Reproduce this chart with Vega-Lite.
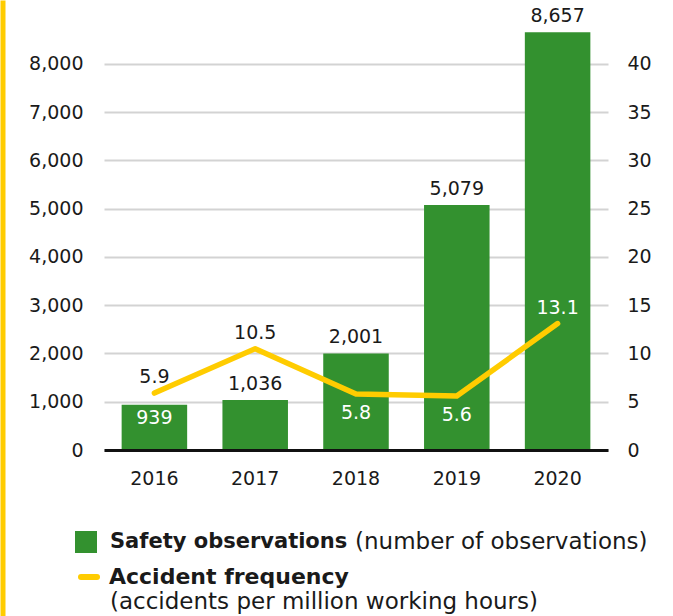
{
  "$schema": "https://vega.github.io/schema/vega-lite/v6.json",
  "width": 504,
  "height": 616,
  "autosize": {"type": "none"},
  "padding": {"left": 104, "top": 0, "right": 65, "bottom": 0},
  "background": "white",
  "config": {
    "view": {"stroke": null},
    "font": "DejaVu Sans",
    "text": {"font": "DejaVu Sans"},
    "axis": {"labelFont": "DejaVu Sans", "labelColor": "#1a1a1a", "labelFontSize": 19, "titleFont": "DejaVu Sans"},
    "legend": {"labelFont": "DejaVu Sans", "titleFont": "DejaVu Sans", "labelColor": "#1a1a1a", "titleColor": "#1a1a1a", "labelLimit": 0, "titleLimit": 0}
  },
  "data": {
    "values": [
      {"year": "2016", "obs": 939, "acc": 5.9},
      {"year": "2017", "obs": 1036, "acc": 10.5},
      {"year": "2018", "obs": 2001, "acc": 5.8},
      {"year": "2019", "obs": 5079, "acc": 5.6},
      {"year": "2020", "obs": 8657, "acc": 13.1}
    ]
  },
  "encoding": {
    "x": {
      "field": "year",
      "type": "ordinal",
      "scale": {"paddingInner": 0.35, "paddingOuter": 0.175},
      "axis": {
        "title": null,
        "orient": "bottom",
        "offset": -166,
        "domainColor": "#111111",
        "domainWidth": 3,
        "ticks": false,
        "labelPadding": 19,
        "labelAngle": 0,
        "grid": false,
        "zindex": 1
      }
    }
  },
  "layer": [
    {
      "encoding": {
        "y": {
          "field": "obs",
          "type": "quantitative",
          "scale": {"domain": [-3440.4, 9326.4], "nice": false, "zero": false},
          "axis": {
            "orient": "left",
            "values": [0, 1000, 2000, 3000, 4000, 5000, 6000, 7000, 8000],
            "labelExpr": "format(datum.value, ',')",
            "grid": true,
            "gridColor": "#d3d3d3",
            "gridWidth": 2,
            "domain": false,
            "ticks": false,
            "labelPadding": 21,
            "title": null
          }
        }
      },
      "layer": [
        {
          "mark": {"type": "bar"},
          "encoding": {
            "y2": {"datum": 0},
            "fill": {
              "datum": "Safety observations",
              "type": "nominal",
              "scale": {"domain": ["Safety observations"], "range": ["#33912f"]},
              "legend": {
                "orient": "none",
                "legendX": -29,
                "legendY": 531,
                "symbolType": "square",
                "symbolSize": 484,
                "symbolStrokeWidth": 0,
                "labelFontSize": 21,
                "labelFontWeight": "bold",
                "labelOffset": 13,
                "labelLimit": 0,
                "title": "(number of observations)",
                "titleOrient": "right",
                "titleFontSize": 23,
                "titleFontWeight": "normal",
                "titlePadding": 8,
                "titleLimit": 0,
                "titleBaseline": "middle"
              }
            }
          }
        },
        {
          "transform": [{"filter": "datum.year != '2016'"}],
          "mark": {"type": "text", "fontSize": 19, "baseline": "bottom", "dy": -6, "color": "#1a1a1a"},
          "encoding": {"text": {"field": "obs", "type": "quantitative", "format": ","}}
        },
        {
          "transform": [{"filter": "datum.year == '2016'"}],
          "mark": {"type": "text", "fontSize": 19, "baseline": "top", "dy": 4, "color": "white"},
          "encoding": {"text": {"field": "obs", "type": "quantitative", "format": ","}}
        }
      ]
    },
    {
      "encoding": {
        "y": {
          "field": "acc",
          "type": "quantitative",
          "scale": {"domain": [-17.202, 46.632], "nice": false, "zero": false},
          "axis": {
            "orient": "right",
            "values": [0, 5, 10, 15, 20, 25, 30, 35, 40],
            "grid": false,
            "domain": false,
            "ticks": false,
            "labelPadding": 19,
            "title": null
          }
        }
      },
      "layer": [
        {
          "mark": {"type": "line", "strokeWidth": 5.5, "strokeCap": "round", "strokeJoin": "round"},
          "encoding": {
            "stroke": {
              "datum": "Accident frequency",
              "type": "nominal",
              "scale": {"domain": ["Accident frequency"], "range": ["#ffcc00"]},
              "legend": {
                "orient": "none",
                "legendX": -26,
                "legendY": 566,
                "symbolType": "stroke",
                "symbolSize": 256,
                "symbolStrokeWidth": 6,
                "labelFontSize": 22,
                "labelFontWeight": "bold",
                "labelOffset": 9,
                "labelLimit": 0,
                "title": "(accidents per million working hours)",
                "titleOrient": "bottom",
                "titleFontSize": 23,
                "titleFontWeight": "normal",
                "titlePadding": 2,
                "titleLimit": 0,
                "encode": {
                  "title": {"update": {"dx": {"value": 32}}},
                  "symbols": {"update": {"strokeCap": {"value": "round"}}}
                }
              }
            }
          }
        },
        {
          "transform": [{"filter": "datum.year == '2016' || datum.year == '2017' || datum.year == '2020'"}],
          "mark": {"type": "text", "fontSize": 19, "baseline": "bottom", "dy": -6},
          "encoding": {
            "text": {"field": "acc", "type": "quantitative", "format": ".1f"},
            "color": {"condition": {"test": "datum.year == '2020'", "value": "white"}, "value": "#1a1a1a"}
          }
        },
        {
          "transform": [{"filter": "datum.year == '2018' || datum.year == '2019'"}],
          "mark": {"type": "text", "fontSize": 19, "baseline": "top", "dy": 10, "color": "white"},
          "encoding": {"text": {"field": "acc", "type": "quantitative", "format": ".1f"}}
        }
      ]
    },
    {
      "mark": {"type": "point", "opacity": 0},
      "encoding": {
        "y": {
          "field": "obs",
          "type": "quantitative",
          "scale": {"domain": [-3440.4, 9326.4], "nice": false, "zero": false},
          "axis": {
            "orient": "left",
            "offset": 101.5,
            "labels": false,
            "ticks": false,
            "grid": false,
            "domain": true,
            "domainColor": "#ffcc00",
            "domainWidth": 5,
            "title": null
          }
        }
      }
    }
  ],
  "resolve": {"scale": {"y": "independent"}}
}
